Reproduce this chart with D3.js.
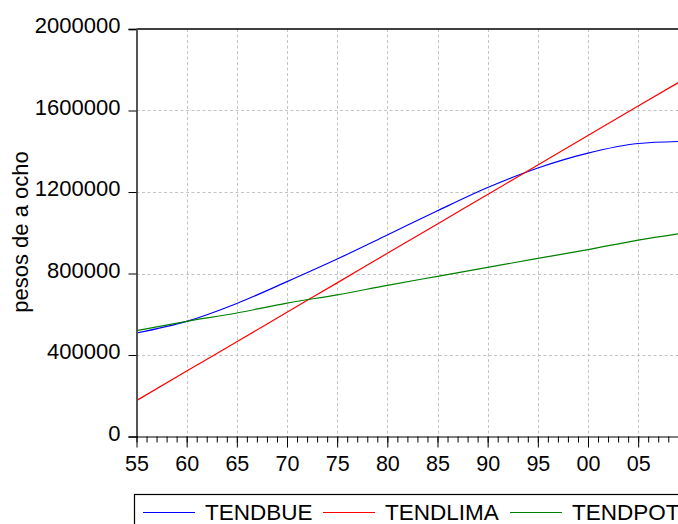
<!DOCTYPE html>
<html>
<head>
<meta charset="utf-8">
<script src="https://cdn.jsdelivr.net/npm/d3@7"></script>
<style>
  body { margin: 0; background: #fff; }
  svg { display: block; font-family: "Liberation Sans", Arial, sans-serif; }
</style>
</head>
<body>
<svg id="chart"></svg>
<script>
// values, every 5 years plus the last year
const years = [1955, 1960, 1965, 1970, 1975, 1980, 1985, 1990, 1995, 2000, 2005, 2009];
const tendBue = [508000, 565000, 653000, 760000, 871000, 989000, 1108000, 1222000, 1318000, 1391000, 1438000, 1448000];
const tendLima = [176000, 321000, 465000, 610000, 754000, 899000, 1043000, 1188000, 1332000, 1477000, 1622000, 1737000];
const tendPot = [520000, 565000, 606000, 655000, 695000, 742000, 786000, 830000, 874000, 917000, 964000, 995000];

const seriesNames = ['TENDBUE', 'TENDLIMA', 'TENDPOT'];
const seriesColors = ['#0000ff', '#ff0000', '#008000'];
const yTicks = [0, 400000, 800000, 1200000, 1600000, 2000000];
const xMajor = [1955, 1960, 1965, 1970, 1975, 1980, 1985, 1990, 1995, 2000, 2005];
const xMinor = d3.range(1955, 2010);

const W = 678, H = 524;
const plotLeft = 136.5, plotTop = 29, plotBottom = 436.5;

const svg = d3.select('#chart').attr('width', W).attr('height', H);

const x = d3.scaleLinear().domain([1955, 2009]).range([plotLeft, 678.3]);
const y = d3.scaleLinear().domain([0, 2000000]).range([plotBottom, plotTop]);

// grid
const grid = svg.append('g')
  .attr('stroke', '#c4c4c4')
  .attr('stroke-dasharray', '3,2.5')
  .attr('stroke-width', 1);
grid.selectAll('.gx').data(xMajor.slice(1)).enter().append('line')
  .attr('x1', d => Math.round(x(d)) + 0.5).attr('x2', d => Math.round(x(d)) + 0.5)
  .attr('y1', plotTop).attr('y2', plotBottom);
grid.selectAll('.gy').data(yTicks.slice(1, -1)).enter().append('line')
  .attr('x1', plotLeft).attr('x2', W)
  .attr('y1', d => Math.round(y(d)) + 0.5).attr('y2', d => Math.round(y(d)) + 0.5);

// series
const data = [tendBue, tendLima, tendPot];
const line = d3.line()
  .x((d, i) => x(years[i]))
  .y(d => y(d))
  .curve(d3.curveMonotoneX);

svg.append('g').selectAll('path')
  .data(data).enter().append('path')
  .attr('fill', 'none')
  .attr('stroke', (d, i) => seriesColors[i])
  .attr('stroke-width', 1.2)
  .attr('d', line);

// frame top
svg.append('line')
  .attr('x1', plotLeft).attr('x2', W + 10)
  .attr('y1', plotTop).attr('y2', plotTop)
  .attr('stroke', '#000').attr('stroke-width', 1.3);

// y axis
const yAxis = svg.append('g')
  .attr('transform', `translate(${plotLeft},0)`)
  .call(d3.axisLeft(y).tickValues(yTicks).tickSize(8).tickPadding(8).tickFormat(d3.format('d')));
yAxis.select('.domain').attr('stroke', '#555').attr('stroke-width', 2);
yAxis.selectAll('text')
  .attr('font-size', 22)
  .attr('fill', '#000')
  .attr('dy', '0.16em')
  .attr('font-family', '"Liberation Sans", Arial, sans-serif');

// x axis: minor ticks then major ticks with labels
const xMinorAxis = svg.append('g')
  .attr('transform', `translate(0,${plotBottom})`)
  .call(d3.axisBottom(x).tickValues(xMinor).tickSize(6).tickFormat(''));
xMinorAxis.select('.domain').attr('d', `M${plotLeft},0.5H${W + 10}`).attr('stroke', '#000');

const xAxis = svg.append('g')
  .attr('transform', `translate(0,${plotBottom})`)
  .call(d3.axisBottom(x).tickValues(xMajor).tickSize(11).tickPadding(8)
    .tickFormat(d => String(d % 100).padStart(2, '0')));
xAxis.select('.domain').remove();
xAxis.selectAll('text')
  .attr('font-size', 21.5)
  .attr('fill', '#000')
  .attr('font-family', '"Liberation Sans", Arial, sans-serif');

// y title
svg.append('text')
  .attr('transform', 'translate(28,232) rotate(-90)')
  .attr('text-anchor', 'middle')
  .attr('font-size', 22)
  .text('pesos de a ocho');

// legend
const legend = svg.append('g');
legend.append('rect')
  .attr('x', 134.5).attr('y', 494.5)
  .attr('width', 600).attr('height', 60)
  .attr('fill', 'none').attr('stroke', '#000').attr('stroke-width', 1.2);

const legX = [143, 323, 510];
const items = legend.selectAll('.item').data(seriesNames).enter().append('g')
  .attr('transform', (d, i) => `translate(${legX[i]},0)`);
items.append('line')
  .attr('x1', 0).attr('x2', 52)
  .attr('y1', 512.5).attr('y2', 512.5)
  .attr('stroke', (d, i) => seriesColors[i]);
items.append('text')
  .attr('x', 62).attr('y', 520)
  .attr('font-size', 22.5)
  .text(d => d);
</script>
</body>
</html>
